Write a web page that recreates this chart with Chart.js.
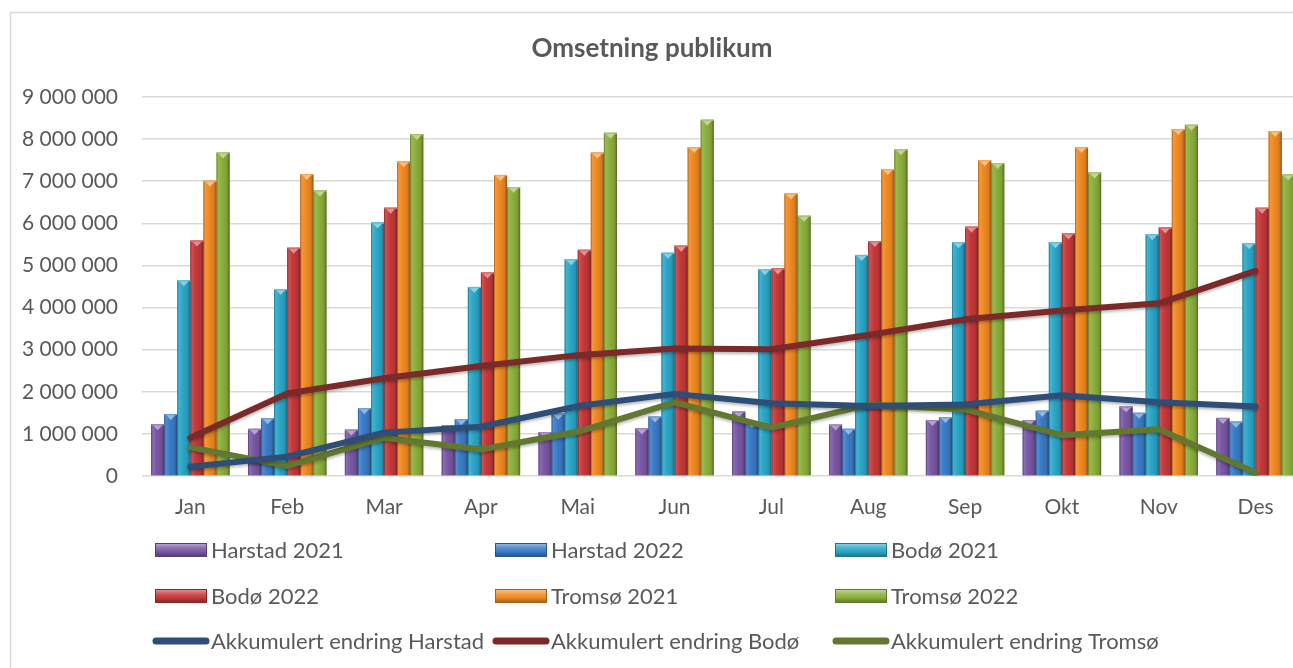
<!DOCTYPE html>
<html>
<head>
<meta charset="utf-8">
<script src="https://cdn.jsdelivr.net/npm/chart.js@4/dist/chart.umd.min.js"></script>
<style>
  html, body { margin: 0; padding: 0; background: #fff; overflow: hidden; }
  #wrap { position: relative; width: 1304px; height: 668px; }
</style>
</head>
<body>
<div id="wrap"><canvas id="chart"></canvas></div>
<script>
// Monthly revenue per city and year, plus accumulated change
const months = ['Jan', 'Feb', 'Mar', 'Apr', 'Mai', 'Jun', 'Jul', 'Aug', 'Sep', 'Okt', 'Nov', 'Des'];
const harstad2021 = [1230000, 1120000, 1100000, 1200000, 1040000, 1130000, 1530000, 1220000, 1330000, 1330000, 1650000, 1380000];
const harstad2022 = [1470000, 1370000, 1610000, 1350000, 1480000, 1410000, 1280000, 1120000, 1400000, 1550000, 1500000, 1290000];
const bodo2021 = [4650000, 4440000, 6020000, 4490000, 5150000, 5300000, 4910000, 5250000, 5550000, 5550000, 5740000, 5530000];
const bodo2022 = [5590000, 5420000, 6370000, 4830000, 5370000, 5470000, 4930000, 5580000, 5920000, 5760000, 5900000, 6370000];
const tromso2021 = [7010000, 7170000, 7470000, 7150000, 7680000, 7810000, 6710000, 7290000, 7500000, 7810000, 8240000, 8190000];
const tromso2022 = [7680000, 6780000, 8120000, 6860000, 8150000, 8460000, 6180000, 7760000, 7430000, 7210000, 8340000, 7160000];
const akkHarstad = [220000, 460000, 1030000, 1170000, 1660000, 1950000, 1730000, 1660000, 1700000, 1920000, 1750000, 1650000];
const akkBodo = [910000, 1960000, 2320000, 2610000, 2870000, 3030000, 3010000, 3350000, 3720000, 3930000, 4100000, 4870000];
const akkTromso = [680000, 240000, 910000, 630000, 1050000, 1750000, 1150000, 1690000, 1580000, 970000, 1110000, 80000];
const yTicks = [0, 1000000, 2000000, 3000000, 4000000, 5000000, 6000000, 7000000, 8000000, 9000000];

const FONT = 'Lato, "Open Sans", sans-serif';
const TEXT = '#595959';

function shade(hex, amt) {
  const n = parseInt(hex.slice(1), 16);
  let r = n >> 16, g = (n >> 8) & 255, b = n & 255;
  const t = amt < 0 ? 0 : 255, p = Math.abs(amt);
  r = Math.round((t - r) * p + r);
  g = Math.round((t - g) * p + g);
  b = Math.round((t - b) * p + b);
  return `rgb(${r},${g},${b})`;
}

function fmt(v) {
  return String(v).replace(/\B(?=(\d{3})+(?!\d))/g, ' ');
}

function barSet(label, data, color) {
  return { type: 'bar', label, data, backgroundColor: color, baseColor: color, order: 1,
           categoryPercentage: 0.81, barPercentage: 1.0 };
}
function lineSet(label, data, color) {
  return { type: 'line', label, data, borderColor: color, backgroundColor: color, order: 0,
           borderWidth: 6, pointRadius: 0, tension: 0, fill: false,
           borderCapStyle: 'round', borderJoinStyle: 'round' };
}

const datasets = [
  barSet('Harstad 2021', harstad2021, '#7A58A6'),
  barSet('Harstad 2022', harstad2022, '#3B7CC8'),
  barSet('Bodø 2021', bodo2021, '#2CA7C8'),
  barSet('Bodø 2022', bodo2022, '#C6393A'),
  barSet('Tromsø 2021', tromso2021, '#F08A22'),
  barSet('Tromsø 2022', tromso2022, '#8CB03C'),
  lineSet('Akkumulert endring Harstad', akkHarstad, '#2E4E78'),
  lineSet('Akkumulert endring Bodø', akkBodo, '#7B2A2A'),
  lineSet('Akkumulert endring Tromsø', akkTromso, '#627830')
];

// Outer frame of the chart
const framePlugin = {
  id: 'frame',
  beforeDraw(chart) {
    const ctx = chart.ctx;
    ctx.save();
    ctx.strokeStyle = '#d9d9d9';
    ctx.lineWidth = 1.5;
    ctx.strokeRect(10.5, 12.5, chart.width + 20, chart.height + 20);
    ctx.restore();
  }
};

// Bevelled, cylindrical look for each bar
const barBevel = {
  id: 'barBevel',
  afterDatasetDraw(chart, args) {
    const meta = args.meta;
    if (meta.type !== 'bar') return;
    const c = chart.data.datasets[args.index].baseColor;
    const ctx = chart.ctx;
    ctx.save();
    meta.data.forEach(el => {
      const p = el.getProps(['x', 'y', 'base', 'width'], true);
      const l = p.x - p.width / 2, r = p.x + p.width / 2;
      const h = p.base - p.y;
      const g = ctx.createLinearGradient(l, 0, r, 0);
      g.addColorStop(0, shade(c, -0.3));
      g.addColorStop(0.12, shade(c, 0.12));
      g.addColorStop(0.4, c);
      g.addColorStop(0.8, shade(c, -0.1));
      g.addColorStop(1, shade(c, -0.4));
      ctx.fillStyle = g;
      ctx.fillRect(l, p.y, p.width, h);
      // top facet
      ctx.fillStyle = shade(c, 0.45);
      ctx.beginPath();
      ctx.moveTo(l + 1, p.y);
      ctx.lineTo(r - 1, p.y);
      ctx.lineTo(p.x, p.y + Math.min(6, h));
      ctx.closePath();
      ctx.fill();
      ctx.fillStyle = shade(c, 0.25);
      ctx.fillRect(l, p.y, p.width, 1.2);
    });
    ctx.restore();
  }
};

// Soft shadow under the accumulated lines
const lineShadow = {
  id: 'lineShadow',
  beforeDatasetDraw(chart, args) {
    if (args.meta.type !== 'line') return;
    const ctx = chart.ctx;
    ctx.save();
    ctx.shadowColor = 'rgba(0,0,0,0.28)';
    ctx.shadowBlur = 3;
    ctx.shadowOffsetY = 2;
  },
  afterDatasetDraw(chart, args) {
    if (args.meta.type !== 'line') return;
    chart.ctx.restore();
  }
};

// Three-column legend below the axis
const gridLegend = {
  id: 'gridLegend',
  afterDraw(chart) {
    const ctx = chart.ctx;
    const cols = [155, 495, 835];
    const rows = [550, 596, 641];
    ctx.save();
    ctx.font = `22px ${FONT}`;
    ctx.textBaseline = 'middle';
    ctx.textAlign = 'left';
    chart.data.datasets.forEach((ds, i) => {
      const x = cols[i % 3], y = rows[Math.floor(i / 3)];
      if (ds.type === 'bar') {
        const c = ds.baseColor;
        const g = ctx.createLinearGradient(0, y - 7, 0, y + 7);
        g.addColorStop(0, shade(c, 0.5));
        g.addColorStop(0.35, shade(c, 0.15));
        g.addColorStop(0.6, c);
        g.addColorStop(1, shade(c, -0.35));
        ctx.fillStyle = g;
        ctx.fillRect(x, y - 7, 52, 14);
        ctx.strokeStyle = shade(c, -0.3);
        ctx.lineWidth = 1;
        ctx.strokeRect(x + 0.5, y - 6.5, 51, 13);
      } else {
        ctx.strokeStyle = ds.borderColor;
        ctx.lineWidth = 7;
        ctx.lineCap = 'round';
        ctx.beginPath();
        ctx.moveTo(x + 1, y);
        ctx.lineTo(x + 51, y);
        ctx.stroke();
      }
      ctx.fillStyle = TEXT;
      ctx.fillText(ds.label, x + 56, y + 1);
    });
    ctx.restore();
  }
};

new Chart(document.getElementById('chart'), {
  data: { labels: months, datasets },
  plugins: [framePlugin, barBevel, lineShadow, gridLegend],
  options: {
    responsive: true,
    maintainAspectRatio: false,
    animation: false,
    layout: { padding: { top: 0, bottom: 148, left: 0, right: 0 } },
    plugins: {
      legend: { display: false },
      tooltip: { enabled: false },
      title: {
        display: true,
        text: 'Omsetning publikum',
        color: TEXT,
        font: { family: FONT, size: 26, weight: 'bold' },
        padding: { top: 33, bottom: 32.8 }
      }
    },
    scales: {
      x: {
        grid: { display: false, drawTicks: false },
        border: { display: false },
        ticks: { color: TEXT, font: { family: FONT, size: 21 }, padding: 19 },
        afterFit(scale) { scale.height = 44; }
      },
      y: {
        min: 0,
        max: 9000000,
        afterBuildTicks(scale) { scale.ticks = yTicks.map(v => ({ value: v })); },
        grid: { color: '#d9d9d9', lineWidth: 1.5, drawTicks: false },
        border: { display: false },
        ticks: { color: TEXT, font: { family: FONT, size: 21 }, padding: 24, callback: v => fmt(v) },
        afterFit(scale) { scale.width = 142; }
      }
    }
  }
});
</script>
</body>
</html>
